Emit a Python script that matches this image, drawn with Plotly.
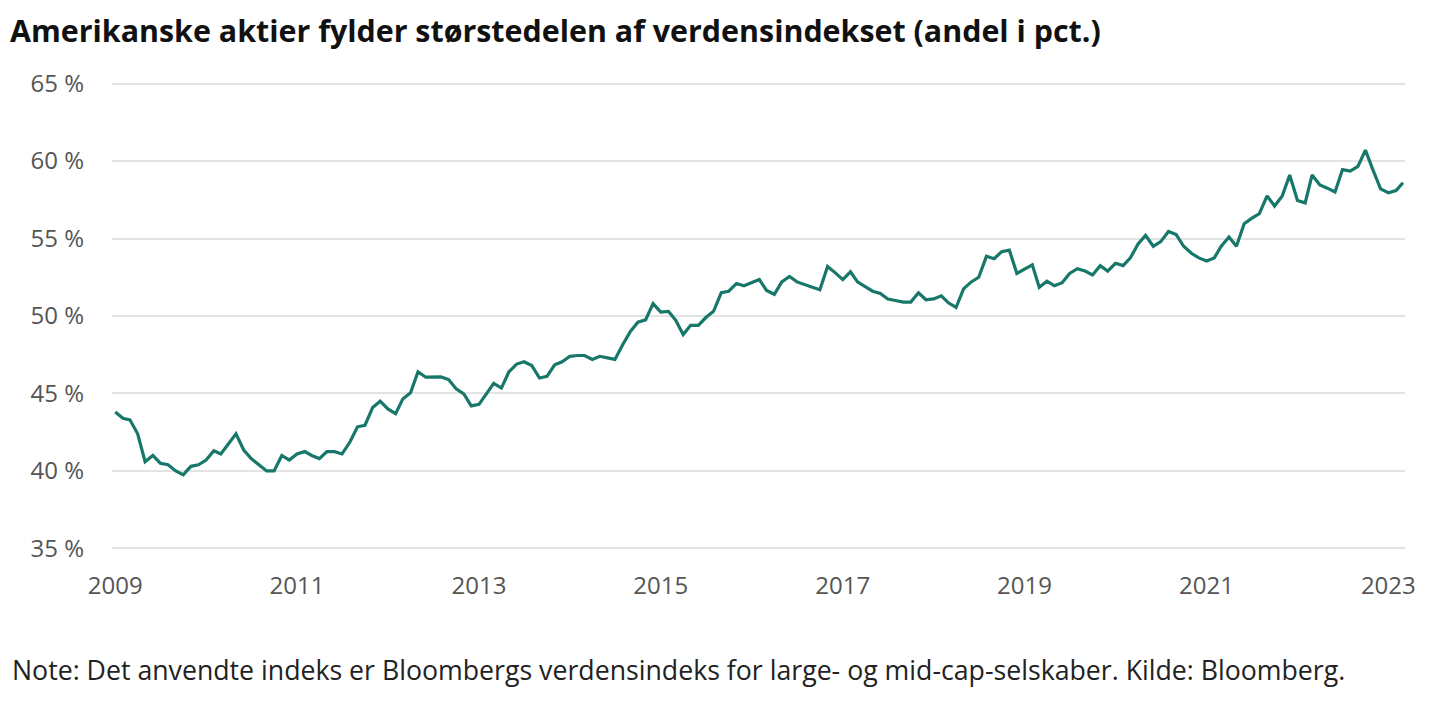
import pandas as pd
import plotly.graph_objects as go

start_month = "2009-01-01"
share_pct = [
    43.8, 43.4, 43.3, 42.4, 40.6, 41.0, 40.5, 40.4, 40.0, 39.75, 40.3, 40.4,
    40.7, 41.3, 41.1, 41.8, 42.4, 41.35, 40.8, 40.4, 40.0, 40.0, 41.0, 40.7,
    41.1, 41.25, 41.0, 40.8, 41.25, 41.25, 41.1, 41.85, 42.85, 42.95, 44.1, 44.5,
    44.0, 43.7, 44.65, 45.05, 46.4, 46.05, 46.05, 46.07, 45.9, 45.3, 44.97, 44.2,
    44.3, 44.97, 45.65, 45.35, 46.4, 46.9, 47.05, 46.8, 46.0, 46.1, 46.85, 47.05,
    47.4, 47.45, 47.45, 47.2, 47.4, 47.3, 47.2, 48.15, 49.0, 49.6, 49.75, 50.8,
    50.25, 50.3, 49.75, 48.8, 49.4, 49.4, 49.9, 50.3, 51.5, 51.6, 52.1, 51.95,
    52.15, 52.35, 51.65, 51.4, 52.2, 52.55, 52.2, 52.0, 51.85, 51.7, 53.2, 52.8,
    52.35, 52.85, 52.2, 51.9, 51.6, 51.45, 51.1, 51.0, 50.9, 50.9, 51.5, 51.05,
    51.1, 51.3, 50.85, 50.55, 51.75, 52.2, 52.5, 53.85, 53.7, 54.15, 54.25, 52.75,
    53.0, 53.3, 51.85, 52.25, 51.95, 52.15, 52.75, 53.05, 52.9, 52.65, 53.25, 52.9,
    53.4, 53.25, 53.75, 54.65, 55.2, 54.5, 54.8, 55.45, 55.25, 54.5, 54.05, 53.75,
    53.55, 53.75, 54.5, 55.1, 54.5, 55.95, 56.3, 56.6, 57.75, 57.1, 57.75, 59.1,
    57.45, 57.3, 59.1, 58.45, 58.25, 58.0, 59.45, 59.35, 59.65, 60.7, 59.4, 58.2,
    57.95, 58.1, 58.6,
]
months = pd.date_range(start_month, periods=len(share_pct), freq="MS")

y_tick_values = [35, 40, 45, 50, 55, 60, 65]
y_tick_labels = ["35 %", "40 %", "45 %", "50 %", "55 %", "60 %", "65 %"]
x_tick_years = ["2009", "2011", "2013", "2015", "2017", "2019", "2021", "2023"]

title_text = "Amerikanske aktier fylder størstedelen af verdensindekset (andel i pct.)"
note_text = "Note: Det anvendte indeks er Bloombergs verdensindeks for large- og mid-cap-selskaber. Kilde: Bloomberg."

# page body has an 8px margin, so the figure is sized/offset to compensate
W, H = 1424, 689
ML, MR, MT, MB = 104, 27, 74, 147
PW, PH = W - ML - MR, H - MT - MB

FONT = "Open Sans"

fig = go.Figure()
fig.add_trace(go.Scatter(
    x=months, y=share_pct, mode="lines",
    line=dict(color="#17786a", width=3.2),
    hoverinfo="x+y",
))

fig.update_layout(
    width=W, height=H,
    margin=dict(l=ML, r=MR, t=MT, b=MB),
    paper_bgcolor="white", plot_bgcolor="white",
    showlegend=False,
    font=dict(family=FONT, color="#555555", size=24),
    title=dict(
        text="<b>" + title_text + "</b>",
        x=2 / W, xanchor="left", xref="container",
        y=1 - 23 / H, yanchor="middle", yref="container",
        font=dict(family=FONT, size=30.4, color="#111111"),
    ),
    xaxis=dict(
        range=["2008-12-19", "2023-03-09"],
        tickvals=[y + "-01-01" for y in x_tick_years],
        ticktext=x_tick_years,
        showgrid=False, zeroline=False, showline=False,
        ticks="", ticklabelstandoff=19,
        tickfont=dict(family=FONT, size=24, color="#555555"),
    ),
    yaxis=dict(
        range=[34.9, 65.1],
        tickvals=y_tick_values, ticktext=y_tick_labels,
        showgrid=True, gridcolor="#e3e3e3", gridwidth=2,
        zeroline=False, showline=False, ticks="",
        ticklabelstandoff=27,
        tickfont=dict(family=FONT, size=24, color="#555555"),
    ),
    annotations=[dict(
        text=note_text, xref="paper", yref="paper",
        x=(2 - ML) / PW, y=(H - MB - 661) / PH, xanchor="left", yanchor="middle",
        showarrow=False, font=dict(family=FONT, size=26.7, color="#222222"),
    )],
)

fig.write_html("out.html")
